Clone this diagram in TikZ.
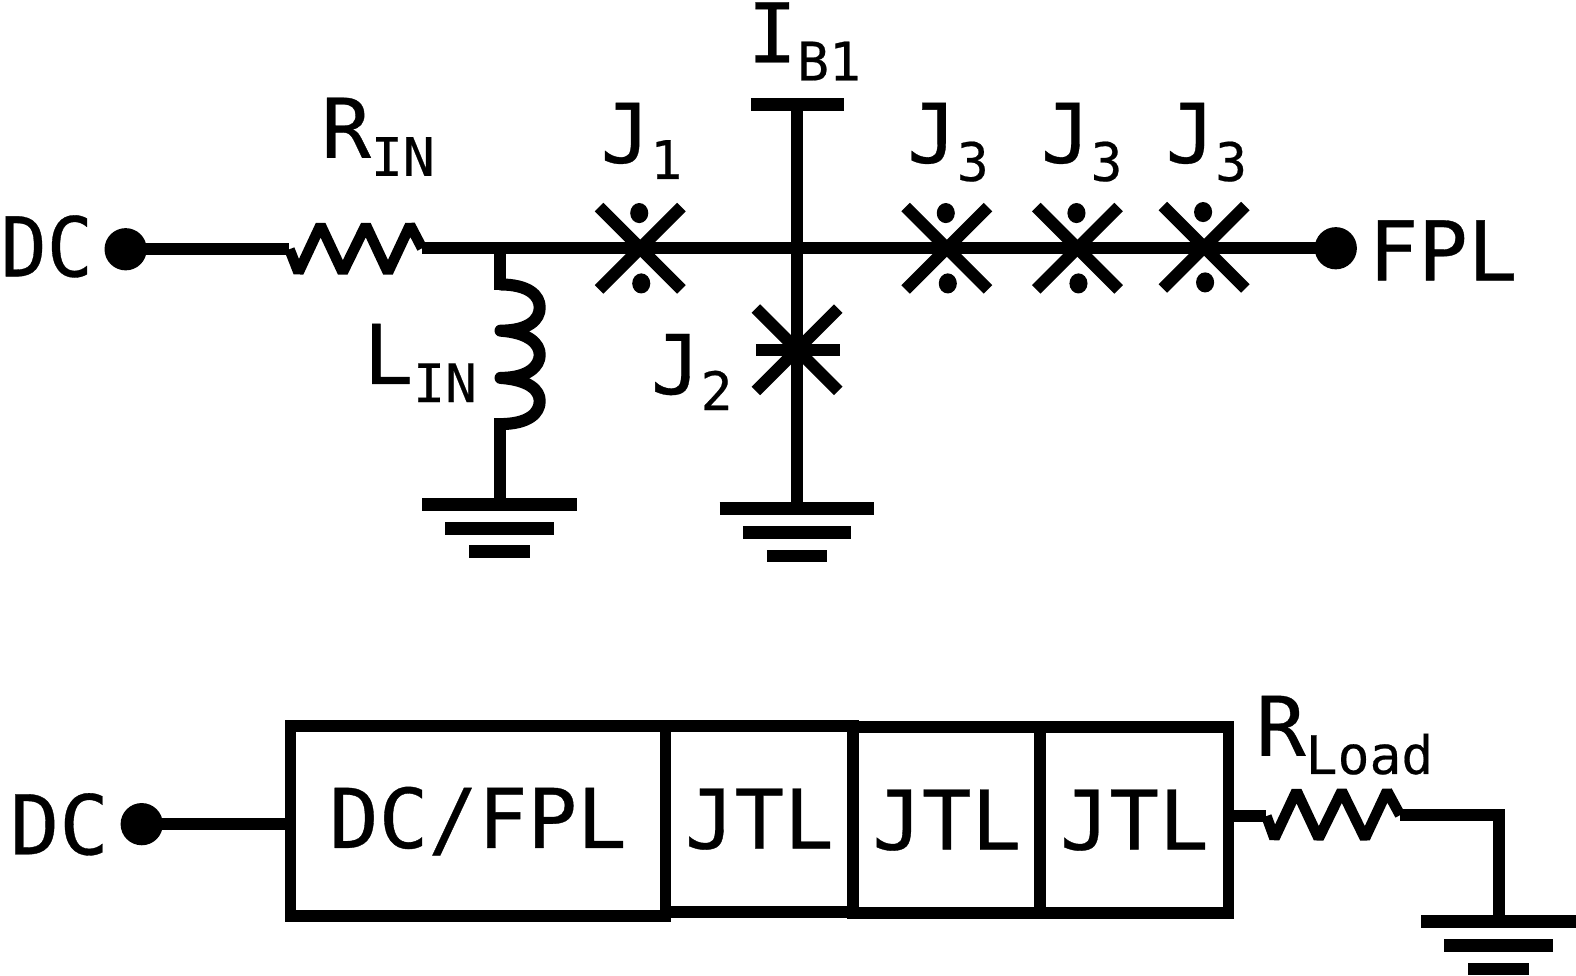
\documentclass[tikz,border=0pt]{standalone}
\usepackage{fontspec}
\setmainfont{DejaVu Sans Mono}
\newcommand{\mainsz}{\fontsize{23.3}{28}\selectfont\addfontfeature{FakeBold=0.4}}
\newcommand{\subsz}{\fontsize{15}{18}\selectfont\addfontfeature{FakeBold=0.4}}
\newcommand{\withsub}[2]{{\mainsz #1}\raisebox{-0.18cm}{\subsz #2}}
\tikzset{
  wire/.style={line width=0.12cm, line join=round},
  zigzag/.style={line width=0.105cm, line join=bevel},
  bar/.style={line width=0.125cm},
  terminal/.style={circle, fill=black, minimum size=0.42cm, inner sep=0pt, outer sep=0pt},
  lbl/.style={anchor=base west, inner sep=0pt, font=\mainsz},
  cell/.style={draw, line width=0.115cm, inner sep=0pt, font=\mainsz},
}
\begin{document}
\begin{tikzpicture}[x=0.01cm, y=-0.01cm]
  \useasboundingbox (0,0) rectangle (1568,971);

  % input circuit
  \node[terminal] (dctop) at (125,248) {};
  \node[terminal] (fpl) at (1329,247) {};
  \coordinate (rinL) at (288,248);
  \coordinate (rinR) at (420,247);
  \coordinate (tee) at (497,247);
  \coordinate (cross) at (793,247);
  \coordinate (ib) at (793,104);
  \coordinate (lintop) at (497,283);
  \coordinate (linbot) at (497,422);
  \coordinate (j1) at (637,247);
  \coordinate (j2) at (793,348);
  \coordinate (j3a) at (942,247);
  \coordinate (j3b) at (1072,247);
  \coordinate (j3c) at (1198,246);
  \coordinate (gnda) at (497,502);
  \coordinate (gndb) at (793,506);
  \coordinate (gndc) at (1491,917);

  \draw[wire] (dctop.center) -- (rinL);
  \draw[zigzag] (rinL) -- (297,271) -- (319,224) -- (341,271) -- (364,224) -- (386,271) -- (408,224) -- (rinR);
  \draw[wire] (rinR) -- (j3b);
  \draw[wire] (j3b) -- (fpl.center);
  \draw[wire, line cap=rect] (tee) -- (lintop);
  \draw[wire] (lintop) .. controls (526,283) and (537,294) .. (537,306) .. controls (537,318) and (526,329) .. (498,329)
    .. controls (526,331) and (537,342) .. (537,353)
    .. controls (537,364) and (526,376) .. (498,376)
    .. controls (526,378) and (537,388) .. (537,399) .. controls (537,411) and (526,422) .. (linbot);
  \draw[wire, line cap=rect] (linbot) -- (gnda);
  \draw[wire] (ib) -- (gndb);
  \draw[bar] (747,104) -- (840,104);

  % junctions
  \foreach \jn in {j1,j2,j3a,j3b,j3c} {
    \draw[wire] ([shift={(-41,-41)}]\jn) -- ([shift={(41,41)}]\jn);
    \draw[wire] ([shift={(-41,41)}]\jn) -- ([shift={(41,-41)}]\jn);
  }
  \foreach \jn in {j1,j3a,j3b,j3c} {
    \fill ([shift={(-1,-35)}]\jn) circle[x radius=9, y radius=10];
    \fill ([shift={(1,35)}]\jn) circle[x radius=9, y radius=10];
  }
  \draw[wire] (752,348) -- (836,348);

  % grounds
  \foreach \gn in {gnda,gndb,gndc} {
    \draw[bar] ([shift={(-77,0)}]\gn) -- ([shift={(77,0)}]\gn);
    \draw[bar] ([shift={(-54,24)}]\gn) -- ([shift={(54,24)}]\gn);
    \draw[bar] ([shift={(-30,47)}]\gn) -- ([shift={(30,47)}]\gn);
  }

  % labels
  \node[lbl] (dctxt) at (0,275) {\scalebox{0.93}[1]{DC}};
  \node[lbl] (fpltxt) at (1361,279) {FPL};
  \node[lbl] (ibtxt) at (743,62) {\withsub{I}{B1}};
  \node[lbl] (rintxt) at (319,157) {\withsub{R}{IN}};
  \node[lbl] (lintxt) at (361,382) {\withsub{L}{IN}};
  \node[lbl] (j1txt) at (597,162) {\withsub{J}{\raisebox{0.02cm}{1}}};
  \node[lbl] (j2txt) at (647,392) {\withsub{J}{\raisebox{0.02cm}{2}}};
  \node[lbl] (j3atxt) at (902,162) {\withsub{J}{3}};
  \node[lbl] (j3btxt) at (1035,162) {\withsub{J}{3}};
  \node[lbl] (j3ctxt) at (1159,162) {\withsub{J}{3}};

  % block row
  \node[terminal] (dcbot) at (141,820) {};
  \node[lbl] (dcbtxt) at (9,850) {DC};
  \node[cell, minimum width=3.73cm, minimum height=1.89cm] (fplcell) at (475.5,817) {DC/FPL};
  \node[cell, minimum width=1.87cm, minimum height=1.85cm] (jtla) at (755.5,815) {JTL};
  \node[cell, minimum width=1.86cm, minimum height=1.85cm] (jtlb) at (942,816) {JTL};
  \node[cell, minimum width=1.87cm, minimum height=1.85cm] (jtlc) at (1128.5,816) {JTL};
  \coordinate (rloadL) at (1260,812);
  \coordinate (rloadR) at (1393,811);
  \coordinate (rcorner) at (1491,811);
  \draw[wire] (dcbot.center) -- (fplcell.west |- dcbot);
  \draw[wire] (jtlc.east |- rloadL) -- (rloadL);
  \draw[zigzag] (rloadL) -- (1268,834) -- (1290,787) -- (1312,834) -- (1335,787) -- (1358,834) -- (1380,787) -- (rloadR);
  \draw[wire, line join=miter] (rloadR) -- (rcorner) -- (gndc);
  \node[lbl] (rloadtxt) at (1249,752) {\withsub{R}{Load}};
\end{tikzpicture}
\end{document}
